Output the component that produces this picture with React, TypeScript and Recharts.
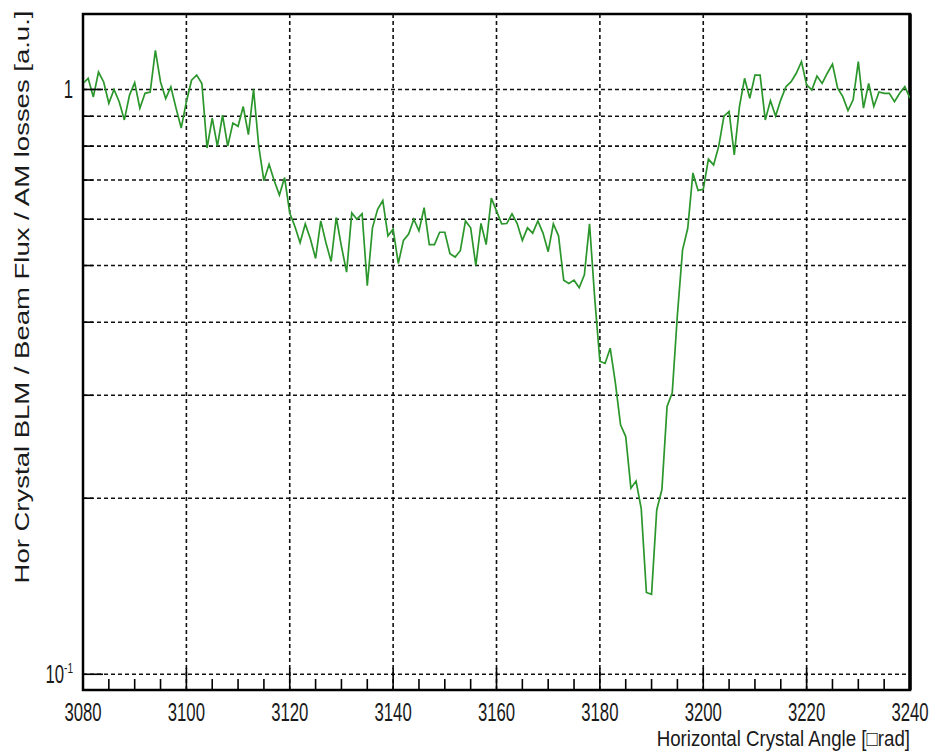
import React from 'react';
import { LineChart, Line, XAxis, YAxis, ReferenceLine, ReferenceArea } from 'recharts';

// crystal angle scan, one sample per urad starting at 3080
const angleStart = 3080;

const lossRatio = [
  1.024, 1.045, 0.971, 1.071, 1.03, 0.947, 1.0, 0.953, 0.887, 0.978, // 3080
  1.027, 0.929, 0.985, 0.99, 1.166, 1.03, 0.965, 1.01, 0.929, 0.859, // 3090
  0.953, 1.037, 1.058, 1.024, 0.794, 0.893, 0.8, 0.904, 0.8, 0.876, // 3100
  0.865, 0.935, 0.837, 1.0, 0.8, 0.698, 0.745, 0.698, 0.66, 0.707, // 3110
  0.615, 0.583, 0.547, 0.589, 0.555, 0.514, 0.596, 0.547, 0.508, 0.604, // 3120
  0.539, 0.487, 0.615, 0.6, 0.613, 0.462, 0.58, 0.624, 0.646, 0.562, // 3130
  0.577, 0.504, 0.552, 0.566, 0.6, 0.573, 0.628, 0.543, 0.543, 0.57, // 3140
  0.57, 0.524, 0.517, 0.53, 0.596, 0.58, 0.5, 0.59, 0.543, 0.652, // 3150
  0.62, 0.589, 0.59, 0.613, 0.59, 0.552, 0.58, 0.568, 0.596, 0.568, // 3160
  0.528, 0.589, 0.562, 0.472, 0.466, 0.472, 0.458, 0.482, 0.589, 0.44, // 3170
  0.343, 0.34, 0.361, 0.315, 0.267, 0.255, 0.208, 0.214, 0.192, 0.138, // 3180
  0.137, 0.191, 0.207, 0.287, 0.303, 0.412, 0.532, 0.579, 0.72, 0.672, // 3190
  0.675, 0.76, 0.743, 0.8, 0.9, 0.917, 0.773, 0.935, 1.045, 0.966, // 3200
  1.058, 1.058, 0.887, 0.957, 0.901, 0.96, 1.011, 1.031, 1.066, 1.116, // 3210
  1.018, 0.998, 1.054, 1.024, 1.066, 1.105, 1.005, 0.972, 0.92, 0.96, // 3220
  1.116, 0.929, 1.024, 0.935, 0.99, 0.985, 0.985, 0.953, 0.985, 1.011, // 3230
  0.966, // 3240
];

const xTicks = [
  3080, 3085, 3090, 3095, 3100, 3105, 3110, 3115, 3120, 3125, 3130, 3135, 3140, 3145, 3150, 3155,
  3160, 3165, 3170, 3175, 3180, 3185, 3190, 3195, 3200, 3205, 3210, 3215, 3220, 3225, 3230, 3235, 3240,
];
const xGrid = [3100, 3120, 3140, 3160, 3180, 3200, 3220];
const yTicks = [0.1, 0.2, 0.3, 0.4, 0.5, 0.6, 0.7, 0.8, 0.9, 1];
const xDomain = [3080, 3240];
const yDomain = [0.094, 1.346];

const data = lossRatio.map((v, i) => ({ angle: angleStart + i, ratio: v }));

const font = 'Liberation Sans, Arial, sans-serif';
const ink = '#1a1a1a';

const XTick = (props: any) => {
  const { x, y, payload } = props;
  const v = payload.value;
  const major = v % 20 === 0;
  return (
    <g>
      <line x1={x} x2={x} y1={y} y2={y - (major ? 22 : 11)} stroke="#000" strokeWidth={1.6} />
      {major && (
        <text
          transform={`translate(${x},${y + 31}) scale(0.67,1)`}
          textAnchor="middle"
          fontSize={25}
          fontFamily={font}
          fill={ink}
        >
          {v}
        </text>
      )}
    </g>
  );
};

const YTick = (props: any) => {
  const { x, y, payload } = props;
  const v = payload.value;
  const major = v === 1 || v === 0.1;
  return (
    <g>
      <line x1={x} x2={x + (major ? 20 : 10)} y1={y} y2={y} stroke="#000" strokeWidth={1.6} />
      {v === 1 && (
        <text transform={`translate(${x - 10},${y + 9}) scale(0.67,1)`} textAnchor="end" fontSize={25} fontFamily={font} fill={ink}>
          1
        </text>
      )}
      {v === 0.1 && (
        <text transform={`translate(${x - 10},${y + 9}) scale(0.67,1)`} textAnchor="end" fontSize={25} fontFamily={font} fill={ink}>
          10
          <tspan fontSize={15} dy={-10}>-1</tspan>
        </text>
      )}
    </g>
  );
};

const XTitle = (props: any) => {
  const vb = props.viewBox;
  return (
    <text
      transform={`translate(${vb.x + vb.width},${vb.y + 56}) scale(0.85,1)`}
      textAnchor="end"
      fontSize={22}
      fontFamily={font}
      fill={ink}
    >
      Horizontal Crystal Angle [□rad]
    </text>
  );
};

const YTitle = (props: any) => {
  const vb = props.viewBox;
  return (
    <text
      transform={`translate(29,${vb.y + vb.height / 2 - 55}) rotate(-90) scale(1,0.75)`}
      textAnchor="middle"
      fontSize={27.5}
      fontFamily={font}
      fill={ink}
    >
      Hor Crystal BLM / Beam Flux / AM losses [a.u.]
    </text>
  );
};

export default function App() {
  return (
    <div style={{ position: 'absolute', left: 0, top: 0, background: '#fff' }}>
      <LineChart width={930} height={752} data={data} margin={{ top: 14, right: 20, bottom: 0, left: 0 }}>
        <XAxis
          dataKey="angle"
          type="number"
          domain={xDomain}
          allowDataOverflow
          ticks={xTicks}
          interval={0}
          tick={<XTick />}
          tickLine={false}
          tickSize={0}
          tickMargin={0}
          height={62}
          axisLine={{ stroke: '#000', strokeWidth: 2 }}
          label={<XTitle />}
        />
        <YAxis
          type="number"
          scale="log"
          domain={yDomain}
          allowDataOverflow
          ticks={yTicks}
          interval={0}
          tick={<YTick />}
          tickLine={false}
          tickSize={0}
          tickMargin={0}
          width={83}
          axisLine={{ stroke: '#000', strokeWidth: 2 }}
          label={<YTitle />}
        />
        {yTicks.map((v) => (
          <ReferenceLine key={'h' + v} y={v} stroke="#111" strokeWidth={1.6} strokeDasharray="4 3" />
        ))}
        {xGrid.map((v) => (
          <ReferenceLine key={'v' + v} x={v} stroke="#111" strokeWidth={1.6} strokeDasharray="4 3" />
        ))}
        <ReferenceArea
          x1={xDomain[0]}
          x2={xDomain[1]}
          y1={yDomain[0]}
          y2={yDomain[1]}
          fill="none"
          fillOpacity={0}
          stroke="#000"
          strokeWidth={2.5}
        />
        <ReferenceLine x={xDomain[1]} stroke="#000" strokeWidth={3.5} />
        <Line
          type="linear"
          dataKey="ratio"
          stroke="#2b962b"
          strokeWidth={1.7}
          dot={false}
          isAnimationActive={false}
        />
      </LineChart>
    </div>
  );
}
